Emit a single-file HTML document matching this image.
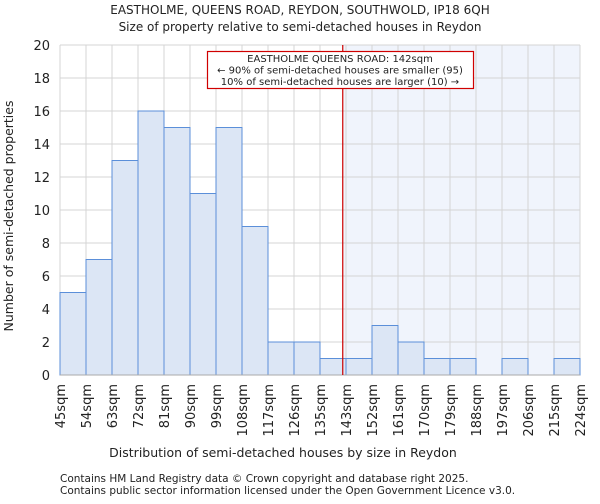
<!DOCTYPE html>
<html><head><meta charset="utf-8"><style>
body{margin:0;background:#fff;font-family:"DejaVu Sans","Liberation Sans",sans-serif}
svg text{font-family:"DejaVu Sans","Liberation Sans",sans-serif;fill:#222}
</style></head><body>
<svg id="c" width="600" height="500" viewBox="0 0 600 500" xmlns="http://www.w3.org/2000/svg">
<text x="300" y="14" text-anchor="middle" font-size="12">EASTHOLME, QUEENS ROAD, REYDON, SOUTHWOLD, IP18 6QH</text>
<text x="300" y="31" text-anchor="middle" font-size="12">Size of property relative to semi-detached houses in Reydon</text>
<g id="plot"></g>
<text x="283" y="457" text-anchor="middle" font-size="12.5">Distribution of semi-detached houses by size in Reydon</text>
<text transform="translate(13,216) rotate(-90)" text-anchor="middle" font-size="12.5">Number of semi-detached properties</text>
<text x="60" y="482" font-size="10.5">Contains HM Land Registry data © Crown copyright and database right 2025.</text>
<text x="60" y="494" font-size="10.5">Contains public sector information licensed under the Open Government Licence v3.0.</text>
</svg>
<script>
const binLabels=["45sqm","54sqm","63sqm","72sqm","81sqm","90sqm","99sqm","108sqm","117sqm","126sqm","135sqm","143sqm","152sqm","161sqm","170sqm","179sqm","188sqm","197sqm","206sqm","215sqm","224sqm"];
const binEdges=[45,54,63,72,81,90,99,108,117,126,135,143,152,161,170,179,188,197,206,215,224];
const counts=[5,7,13,16,15,11,15,9,2,2,1,1,3,2,1,1,0,1,0,1];
const yTicks=[0,2,4,6,8,10,12,14,16,18,20];
const subjectSize=142;
const NS="http://www.w3.org/2000/svg";
const L=60,R=580,T=45,B=375,yMax=20;
const g=document.getElementById('plot');
function y(v){return B-(B-T)*v/yMax;}
function xi(i){return L+(R-L)*i/(binEdges.length-1);}
function xv(v){for(let i=0;i<binEdges.length-1;i++){if(v>=binEdges[i]&&v<=binEdges[i+1])return xi(i)+(xi(i+1)-xi(i))*(v-binEdges[i])/(binEdges[i+1]-binEdges[i]);}return v<binEdges[0]?L:R;}
function mk(t,a){const e=document.createElementNS(NS,t);for(const k in a)e.setAttribute(k,a[k]);g.appendChild(e);return e;}
const sx=xv(subjectSize);
let e=mk('rect',{x:sx,y:T,width:R-sx,height:B-T,fill:'#f0f4fc'});


yTicks.forEach(t=>{const l=mk('line',{x1:L,x2:R,y1:y(t),y2:y(t),stroke:'#d4d4d4','stroke-width':1});


const tx=mk('text',{x:L-10,y:y(t)+5,'text-anchor':'end','font-size':13});tx.textContent=t;

});
binEdges.forEach((b,i)=>{const l=mk('line',{x1:xi(i),x2:xi(i),y1:T,y2:B,stroke:'#d4d4d4','stroke-width':1});


const tx=mk('text',{transform:`translate(${xi(i)+5},${B+9}) rotate(-90)`,'text-anchor':'end','font-size':13});tx.textContent=binLabels[i];

});
counts.forEach((c,i)=>{if(c<=0)return;const r=mk('rect',{x:xi(i),y:y(c),width:xi(i+1)-xi(i),height:B-y(c),fill:'#dce6f5',stroke:'#5b8fd9','stroke-width':1});

});
e=mk('line',{x1:L,x2:R,y1:B,y2:B,stroke:'#aaa'});


e=mk('line',{x1:sx,x2:sx,y1:T,y2:B,stroke:'#cc0000','stroke-width':1.2});


e=mk('rect',{x:207.5,y:51.5,width:266,height:37,fill:'#fff',stroke:'#d00000','stroke-width':1.2});


["EASTHOLME QUEENS ROAD: 142sqm","← 90% of semi-detached houses are smaller (95)","10% of semi-detached houses are larger (10) →"].forEach((s,i)=>{const t=mk('text',{x:340,y:62+i*11.5,'text-anchor':'middle','font-size':10});t.textContent=s;

});
</script>
</body></html>
